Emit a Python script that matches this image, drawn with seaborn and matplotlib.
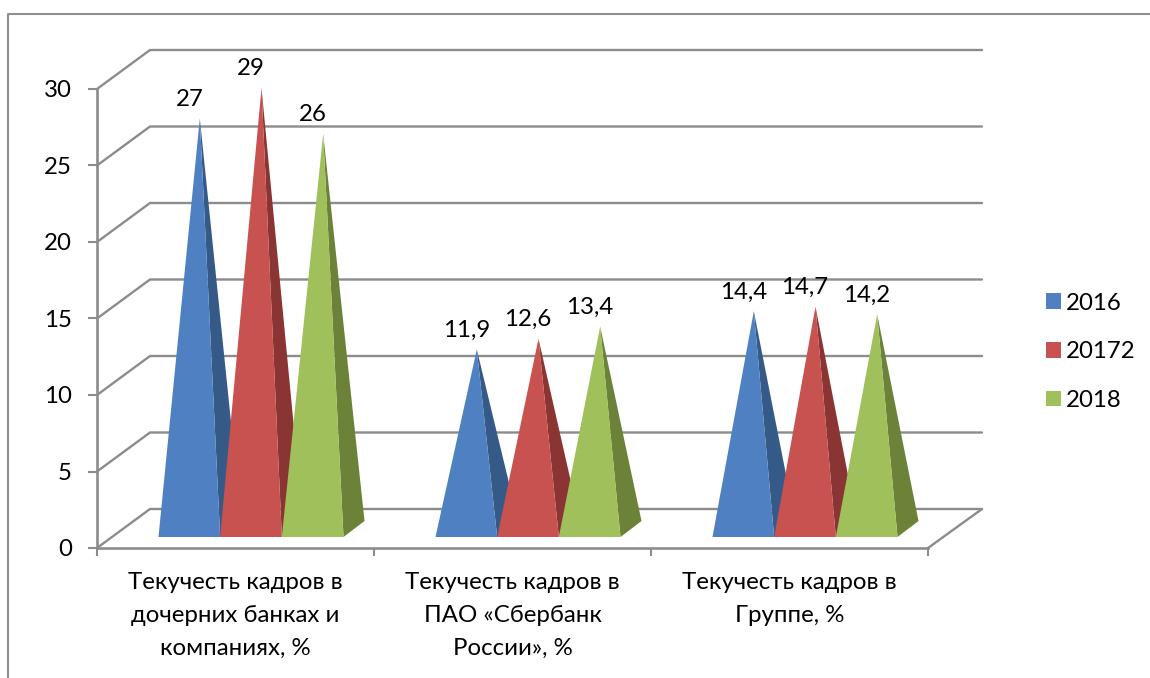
import matplotlib
matplotlib.use('Agg')
import matplotlib.pyplot as plt
from matplotlib.patches import Patch, Polygon
import pandas as pd
import seaborn as sns

categories = ['Текучесть кадров в\nдочерних банках и\nкомпаниях, %',
              'Текучесть кадров в\nПАО «Сбербанк\nРоссии», %',
              'Текучесть кадров в\nГруппе, %']
series_names = ['2016', '20172', '2018']
values_2016 = [27, 11.9, 14.4]
values_20172 = [29, 12.6, 14.7]
values_2018 = [26, 13.4, 14.2]
y_ticks = [0, 5, 10, 15, 20, 25, 30]
front_colors = ['#4F81C2', '#C8524F', '#A0C05B']
side_colors = ['#355A88', '#8A3533', '#6C8239']
GRAY = '#8C8C8C'

sns.set_theme(style='white')
plt.rcParams['font.family'] = ['Lato', 'Open Sans', 'DejaVu Sans']
FONT = 17.3

df = pd.DataFrame({'cat': categories * 3,
                   'year': [s for s in series_names for _ in categories],
                   'value': values_2016 + values_20172 + values_2018})

fig = plt.figure(figsize=(11.5, 6.78), dpi=100)
ax = fig.add_axes([97 / 1150, (678 - 548) / 678, 831 / 1150, 459 / 678])
sns.barplot(data=df, x='cat', y='value', hue='year', palette=front_colors,
            width=0.668, gap=0, legend=False, ax=ax)
ax.set_xlim(-0.5, 2.5)
ax.set_ylim(0, 30)
ax.set_xlabel('')
ax.set_ylabel('')

# one screen pixel in data units
px = 3 / 831
py = 30 / 459

# back wall and side wall of the 3d box
for y in y_ticks:
    ax.plot([-0.5, -0.5 + 53 * px, 2.5 + 54 * px], [y, y + 39 * py, y + 39 * py],
            color=GRAY, lw=1.7, clip_on=False, zorder=1, solid_joinstyle='miter')
ax.plot([2.5, 2.5 + 54 * px], [0, 39 * py], color=GRAY, lw=1.7, clip_on=False, zorder=1)

# seaborn bars give the positions, the pyramids are built on top of them
bars = list(ax.patches)
for i, bar in enumerate(bars):
    bar.set_visible(False)
    c = i // len(categories)
    shift = 15.5 * px
    x0 = bar.get_x() + shift
    x1 = x0 + bar.get_width()
    v = bar.get_height()
    apex = (x0 + bar.get_width() / 2 + 10.5 * px, v + 16.5 * py)
    base = 11 * py
    ax.add_patch(Polygon([(x1, base), (x1 + 21 * px, base + 16 * py), apex],
                         facecolor=side_colors[c], edgecolor='none', zorder=2 + c, clip_on=False))
    ax.add_patch(Polygon([(x0, base), (x1, base), apex],
                         facecolor=front_colors[c], edgecolor='none', zorder=2 + c, clip_on=False))
    ax.annotate(f'{v:g}'.replace('.', ','), (x0 + bar.get_width() / 2, apex[1]),
                xytext=(0, 19 * 0.72), textcoords='offset points', ha='center', va='center',
                fontsize=FONT, color='black', zorder=10, annotation_clip=False)

sns.despine(ax=ax)
for side in ['left', 'bottom']:
    ax.spines[side].set_color(GRAY)
    ax.spines[side].set_linewidth(1.9)
    ax.spines[side].set_zorder(1.5)

ax.set_yticks(y_ticks)
ax.tick_params(axis='y', length=6.5, width=1.5, color=GRAY, left=True, pad=11.5,
               labelsize=FONT, labelcolor='black')
ax.set_xticks([-0.5, 0.5, 1.5, 2.5], minor=True)
ax.tick_params(axis='x', which='minor', length=6, width=1.5, color=GRAY, bottom=True)
ax.tick_params(axis='x', which='major', length=0, pad=17.5, labelsize=FONT, labelcolor='black')
for label in ax.get_xticklabels():
    label.set_linespacing(1.68)

# outer chart frame, only top and left survive in the crop
fig.add_artist(plt.Line2D([8 / 1150, 8 / 1150, 1], [0, 1 - 13.5 / 678, 1 - 13.5 / 678],
                          color='#8F8F8F', lw=1.5))

handles = [Patch(facecolor=col, edgecolor='none', label=name)
           for col, name in zip(front_colors, series_names)]
fig.legend(handles=handles, loc='upper left', bbox_to_anchor=(1024 / 1150, 1 - 271 / 678),
           frameon=False, fontsize=FONT, handlelength=0.62, handleheight=0.62,
           handletextpad=0.22, labelspacing=1.15, borderpad=0.4, labelcolor='black')

fig.savefig('out.png', dpi=100)
plt.close(fig)
